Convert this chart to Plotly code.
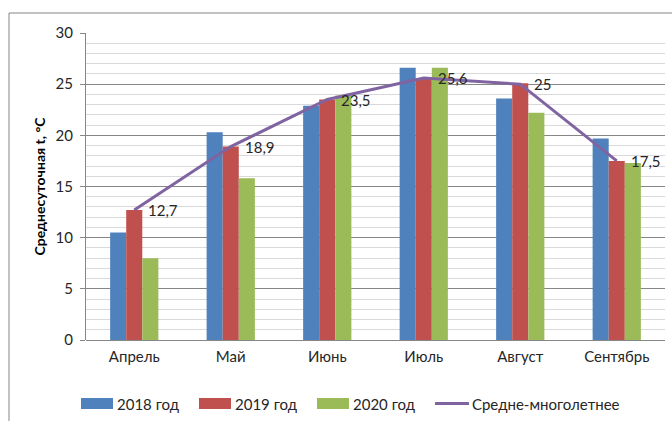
import plotly.graph_objects as go

# Monthly mean daily air temperature, °C
months = ["Апрель", "Май", "Июнь", "Июль", "Август", "Сентябрь"]
t_2018 = [10.5, 20.3, 22.9, 26.6, 23.6, 19.7]
t_2019 = [12.7, 18.9, 23.5, 25.6, 25.1, 17.5]
t_2020 = [8.0, 15.8, 23.9, 26.6, 22.2, 17.3]
t_norm = [12.7, 18.9, 23.5, 25.6, 25.0, 17.5]

y_ticks = [0, 5, 10, 15, 20, 25, 30]

FONT = "Lato, 'Liberation Sans', sans-serif"
TXT = "#262626"

# plot-area geometry in pixels (used to place the legend and frame)
L, R, T, B = 86, 665, 33, 340
W, H = 672, 421


def px_x(x):
    return (x - L) / (R - L)


def px_y(y):
    return (B - y) / (B - T)


series = [
    ("2018 год", t_2018, "#4F81BD"),
    ("2019 год", t_2019, "#C0504D"),
    ("2020 год", t_2020, "#9BBB59"),
]
LINE_NAME, LINE_COLOR = "Средне-многолетнее", "#8064A2"

fig = go.Figure()
for name, vals, color in series:
    fig.add_trace(go.Bar(x=months, y=vals, name=name, marker_color=color,
                         marker_line_width=0))

fig.add_trace(go.Scatter(
    x=months, y=t_norm, name=LINE_NAME, mode="lines",
    line=dict(color=LINE_COLOR, width=3),
))

# value labels of the long-term mean, to the right of each point
for m, v in zip(months, t_norm):
    fig.add_annotation(x=m, y=v, text=f"{v:g}".replace(".", ","),
                       showarrow=False, xanchor="left", yanchor="middle",
                       xshift=12, font=dict(family=FONT, size=15, color=TXT))

# legend row: wide colour swatches followed by labels
leg_y = 403.5
swatch_x = [81, 199, 317, 435]
for (name, _, color), x0 in zip(series, swatch_x[:3]):
    fig.add_shape(type="rect", xref="paper", yref="paper",
                  x0=px_x(x0), x1=px_x(x0 + 32),
                  y0=px_y(leg_y + 5.5), y1=px_y(leg_y - 5.5),
                  fillcolor=color, line_width=0)
    fig.add_annotation(xref="paper", yref="paper", x=px_x(x0 + 34),
                       y=px_y(leg_y), text=name, showarrow=False,
                       xanchor="left", yanchor="middle",
                       font=dict(family=FONT, size=15, color=TXT))
x0 = swatch_x[3]
fig.add_shape(type="line", xref="paper", yref="paper",
              x0=px_x(x0), x1=px_x(x0 + 34), y0=px_y(leg_y), y1=px_y(leg_y),
              line=dict(color=LINE_COLOR, width=3))
fig.add_annotation(xref="paper", yref="paper", x=px_x(x0 + 35),
                   y=px_y(leg_y), text=LINE_NAME, showarrow=False,
                   xanchor="left", yanchor="middle",
                   font=dict(family=FONT, size=15, color=TXT))

# outer chart frame
fig.add_shape(type="rect", xref="paper", yref="paper",
              x0=px_x(9), x1=1.5, y0=-0.5, y1=px_y(13),
              line=dict(color="#868686", width=1), layer="below")

fig.update_layout(
    width=W, height=H,
    margin=dict(l=L, r=W - R, t=T, b=H - B, autoexpand=False),
    paper_bgcolor="white", plot_bgcolor="white",
    barmode="group", bargap=0.5, bargroupgap=0,
    font=dict(family=FONT, size=15, color=TXT),
    showlegend=False,
    xaxis=dict(showline=False, ticks="", tickfont=dict(size=15, color=TXT),
               ticklabelstandoff=6),
    yaxis=dict(
        range=[0, 30], tickvals=y_ticks, ticks="outside", ticklen=5,
        tickcolor="#868686", showline=True, linecolor="#868686",
        showgrid=True, gridcolor="#868686", gridwidth=1,
        minor=dict(dtick=1, showgrid=True, gridcolor="#d9d9d9", gridwidth=1),
        zeroline=True, zerolinecolor="#868686", zerolinewidth=1,
        tickfont=dict(size=15, color=TXT), ticklabelstandoff=4,
        title=dict(text="<b>Среднесуточная t, °C</b>",
                   font=dict(size=14, color="black"), standoff=6),
    ),
)

fig.write_html("out.html")
